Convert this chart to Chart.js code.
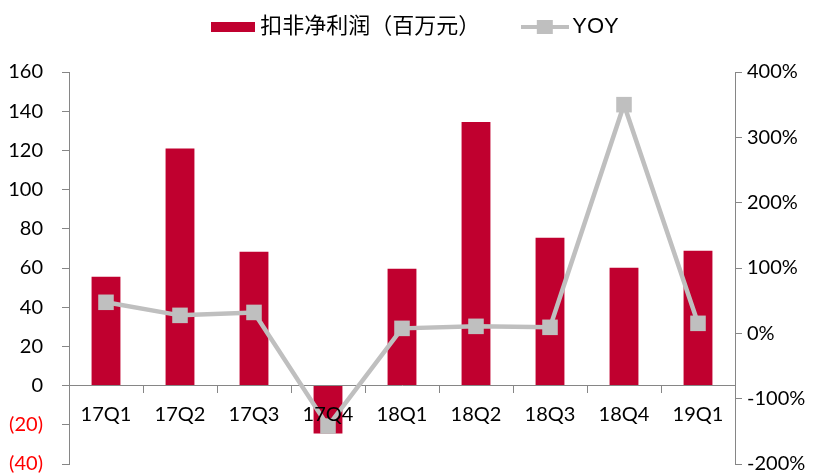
<!DOCTYPE html>
<html><head><meta charset="utf-8">
<script src="https://cdn.jsdelivr.net/npm/chart.js@4/dist/chart.umd.min.js"></script>
<style>html,body{margin:0;padding:0;background:#fff}#wrap{width:817px;height:475px}</style>
</head><body><div id="wrap"><canvas id="c" width="817" height="475"></canvas></div>
<script>
const categories = ['17Q1','17Q2','17Q3','17Q4','18Q1','18Q2','18Q3','18Q4','19Q1'];
const profit = [55.5, 121, 68.3, -24.5, 59.6, 134.5, 75.4, 60.1, 68.8];
const yoy = [47.5, 27.5, 32, -142, 7.6, 10.7, 9.2, 350, 15.3];
const leftTicks = {min: -40, max: 160, step: 20};
const rightTicks = {min: -200, max: 400, step: 100};
const seriesNames = ['扣非净利润（百万元）', 'YOY'];

const RED = '#C0002F', GRAY = '#BFBFBF', AXIS = '#868686';
const TICKFONT = {family: 'Lato, "Liberation Sans", sans-serif', size: 20};

function boxImg(){const c=document.createElement('canvas');c.width=44;c.height=10;const x=c.getContext('2d');x.fillStyle=RED;x.fillRect(0,0,44,10);return c;}
function lineImg(){const c=document.createElement('canvas');c.width=48;c.height=16;const x=c.getContext('2d');x.strokeStyle=GRAY;x.lineWidth=4;x.beginPath();x.moveTo(0,8);x.lineTo(48,8);x.stroke();x.fillStyle=GRAY;x.fillRect(16,1,16,14);return c;}

const LEG_DX = 9, LEG_DY = -32;
const legendFix = {id:'legendFix',
  beforeUpdate(chart){ if(chart.legend && !chart.legend._patched){ const o=chart.legend.fit; chart.legend.fit=function(){o.call(this); this.height=72;}; chart.legend._patched=true; } },
  afterLayout(chart){ const l=chart.legend; if(l){ l.left+=LEG_DX; l.right+=LEG_DX; l.top+=LEG_DY; l.bottom+=LEG_DY; } }
};
function fixY(w){ return function(s){ s.width=w; s.paddingTop=0; s.paddingBottom=0; }; }

new Chart(document.getElementById('c'), {
  data: {
    labels: categories,
    datasets: [
      {type:'bar', label: seriesNames[0], data: profit, backgroundColor: RED, yAxisID:'y', order:1, barPercentage:0.39, categoryPercentage:1},
      {type:'line', label: seriesNames[1], data: yoy, yAxisID:'y1', order:0, borderColor: GRAY, borderWidth:4.5, pointStyle:'rect', pointRadius:11, pointHoverRadius:11, pointBackgroundColor: GRAY, pointBorderWidth:0, tension:0}
    ]
  },
  options: {
    responsive:false, animation:false, events:[],
    layout:{padding:{left:0,right:0,top:0,bottom:11}},
    plugins:{
      tooltip:{enabled:false},
      legend:{position:'top', align:'center',
        labels:{usePointStyle:true, pointStyleWidth:33, padding:48,
          font:{family:'"Liberation Sans", "Noto Sans CJK SC", sans-serif', size:22}, color:'#000',
          generateLabels(){ return [
            {text: seriesNames[0], pointStyle: boxImg(), fillStyle: RED, strokeStyle: RED, lineWidth:0, datasetIndex:0},
            {text: seriesNames[1], pointStyle: lineImg(), fillStyle: GRAY, strokeStyle: GRAY, lineWidth:0, datasetIndex:1}
          ]; }
        }
      }
    },
    scales:{
      x:{position:{y:0}, offset:true,
        grid:{offset:true, drawOnChartArea:false, drawTicks:true, tickLength:7, color:AXIS},
        border:{display:true, color:AXIS, width:1},
        ticks:{font:TICKFONT, color:'#000', padding:10, maxRotation:0, z:1}
      },
      y:{position:'left', min:leftTicks.min, max:leftTicks.max,
        afterFit: fixY(69),
        grid:{drawOnChartArea:false, drawTicks:true, tickLength:7, color:AXIS},
        border:{display:true, color:AXIS, width:1},
        ticks:{stepSize:leftTicks.step, font:TICKFONT, padding:19,
          color:(ctx)=> ctx.tick && ctx.tick.value < 0 ? '#FF0000' : '#000',
          callback:(v)=> v<0 ? '('+Math.abs(v)+')' : String(v)}
      },
      y1:{position:'right', min:rightTicks.min, max:rightTicks.max,
        afterFit: fixY(82),
        grid:{drawOnChartArea:false, drawTicks:true, tickLength:7, color:AXIS},
        border:{display:true, color:AXIS, width:1},
        ticks:{stepSize:rightTicks.step, font:TICKFONT, color:'#000', padding:5, callback:(v)=> v+'%'}
      }
    }
  },
  plugins:[legendFix]
});
</script></body></html>
